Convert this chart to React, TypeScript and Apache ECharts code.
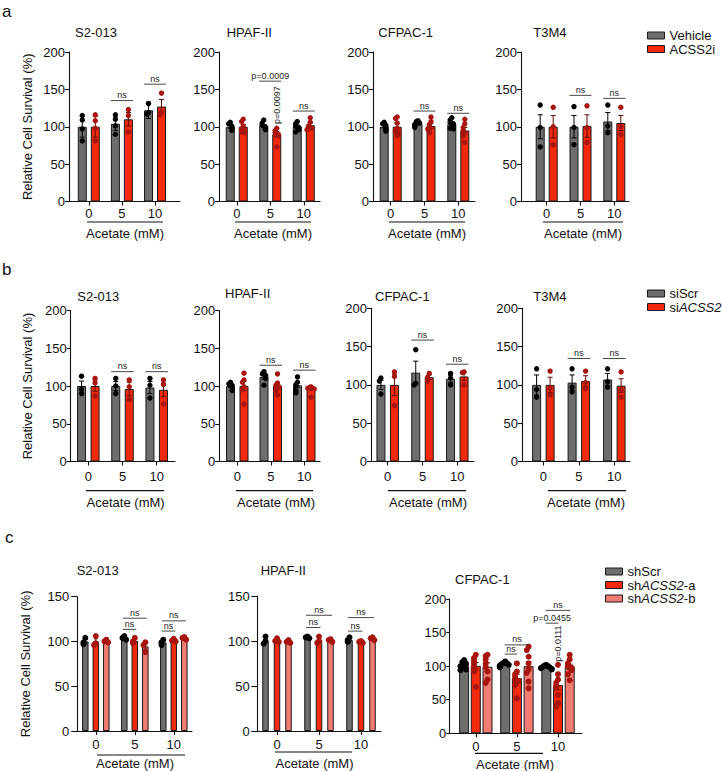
import React, { useEffect, useRef } from 'react';
import * as echarts from 'echarts';

const FONT = "'Liberation Sans', Arial, Helvetica, sans-serif";
const INK = '#111111';
const GRAY = '#6e6e6e';
const RED = '#f2290b';
const PINK = '#f27b72';
const DOT_RED = '#a8140e';
const ERR_RED = '#5e0a05';

const concentrations = ['0', '5', '10'];

// ---------- a : ACSS2 inhibitor ----------
const aS2VehMean = [100, 104, 122];
const aS2VehSem = [14, 9, 11];
const aS2VehDots = [[115, 109, 97, 81], [116, 110, 101, 90], [131, 119, 117]];
const aS2InhMean = [100, 110, 127];
const aS2InhSem = [14, 9, 9.5];
const aS2InhDots = [[116, 108, 98, 81], [123, 115, 93], [145, 120, 116]];
const aS2Sig = [[1, 0, 1, 135, 'ns'], [2, 0, 1, 157, 'ns']];

const aHpVehMean = [100, 101, 100];
const aHpVehSem = [2, 2, 2.5];
const aHpVehDots = [[106, 104, 101, 99, 97, 95], [109, 105, 102, 100, 98, 96], [107, 104, 101, 99, 96, 93]];
const aHpInhMean = [100, 90, 102];
const aHpInhSem = [3, 3.5, 3];
const aHpInhDots = [[110, 107, 101, 97, 93, 92], [98, 95, 92, 90, 88, 73], [112, 106, 101, 100, 98, 96]];
const aHpSig = [[1, 0, 1, 161, 'p=0.0009'], [2, 0, 1, 121, 'ns']];
const aHpSigV = [[1, 1, 129, 'p=0.0097']];

const aCfVehMean = [100, 104, 104];
const aCfVehSem = [1.5, 1.5, 2];
const aCfVehDots = [[106, 104, 102, 100, 98, 96, 94], [108, 107, 105, 103, 102, 100, 99], [112, 109, 106, 104, 101, 98, 97]];
const aCfInhMean = [100, 101, 95];
const aCfInhSem = [4, 3, 4];
const aCfInhDots = [[113, 111, 105, 98, 94, 88, 91], [113, 107, 103, 99, 96, 92, 97], [110, 104, 99, 95, 92, 79, 88]];
const aCfSig = [[1, 0, 1, 121, 'ns'], [2, 0, 1, 118, 'ns']];

const aT3VehMean = [100, 100, 107];
const aT3VehSem = [16, 15, 12];
const aT3VehDots = [[129, 99, 73], [127, 99, 76], [129, 101, 92]];
const aT3InhMean = [100, 101, 105];
const aT3InhSem = [15, 15, 10];
const aT3InhDots = [[126, 100, 76], [128, 99, 79], [126, 100, 90]];
const aT3Sig = [[1, 0, 1, 142, 'ns'], [2, 0, 1, 138, 'ns']];

// ---------- b : siRNA ----------
const bS2ScrMean = [100, 100, 98];
const bS2ScrSem = [6.5, 6, 8];
const bS2ScrDots = [[113, 96, 90], [110, 100, 90], [110, 101, 84]];
const bS2SiMean = [100, 96, 95];
const bS2SiSem = [7, 9, 9];
const bS2SiDots = [[110, 104, 87], [108, 99, 82], [108, 102, 76]];
const bS2Sig = [[1, 0, 1, 119, 'ns'], [2, 0, 1, 119, 'ns']];

const bHpScrMean = [100, 112, 101];
const bHpScrSem = [2, 3, 3];
const bHpScrDots = [[105, 103, 101, 99, 97, 94], [119, 116, 114, 112, 110, 101], [112, 105, 102, 99, 94, 91]];
const bHpSiMean = [100, 100, 97];
const bHpSiSem = [6, 4, 2.5];
const bHpSiDots = [[117, 108, 105, 99, 95, 76], [116, 104, 101, 99, 94, 88], [99, 98, 97, 97, 96, 85]];
const bHpSig = [[1, 0, 1, 127.5, 'ns'], [2, 0, 1, 121, 'ns']];

const bCfScrMean = [100, 116, 108];
const bCfScrSem = [6, 15, 4.5];
const bCfScrDots = [[109, 105, 88], [146, 102, 100], [115, 109, 100]];
const bCfSiMean = [100, 110, 111];
const bCfSiSem = [14, 3, 5.5];
const bCfSiDots = [[117, 111, 73], [115, 110, 105], [117, 116, 100]];
const bCfSig = [[1, 0, 1, 158.5, 'ns'], [2, 0, 1, 127, 'ns']];

const bT3ScrMean = [100, 103, 107];
const bT3ScrSem = [13, 10, 8];
const bT3ScrDots = [[121, 94, 84], [121, 97, 91], [121, 104, 97]];
const bT3SiMean = [100, 105, 99];
const bT3SiSem = [10, 7, 9];
const bT3SiDots = [[118, 96, 87], [118, 103, 95], [117, 93, 84]];
const bT3Sig = [[1, 0, 1, 134.5, 'ns'], [2, 0, 1, 134.5, 'ns']];

// ---------- c : shRNA ----------
const cS2ScrMean = [100, 104, 99];
const cS2ScrSem = [2, 1, 2];
const cS2ScrDots = [[104, 99, 97], [106, 104, 102], [102, 99, 96]];
const cS2AMean = [100, 100.5, 101.5];
const cS2ASem = [3, 2, 1];
const cS2ADots = [[106, 98, 96], [104, 100, 98], [103, 101, 100]];
const cS2BMean = [100.5, 94.5, 103.5];
const cS2BSem = [1, 3, 1];
const cS2BDots = [[102, 100, 99], [99, 96, 88], [105, 104, 102]];
const cS2Sig = [[1, 0, 1, 113.5, 'ns'], [1, 0, 2, 126, 'ns'], [2, 0, 1, 111.6, 'ns'], [2, 0, 2, 123, 'ns']];

const cHpScrMean = [100, 104, 101];
const cHpScrSem = [2, 0.5, 1.5];
const cHpScrDots = [[105, 100, 97], [105, 104, 103], [104, 101, 99]];
const cHpAMean = [101, 101, 99];
const cHpASem = [1, 2, 0.8];
const cHpADots = [[103, 100, 99], [105, 100, 98], [100, 99, 98]];
const cHpBMean = [99, 101, 102.5];
const cHpBSem = [1, 1, 1];
const cHpBDots = [[101, 99, 98], [102, 101, 99], [104, 103, 101]];
const cHpSig = [[1, 0, 1, 115, 'ns'], [1, 0, 2, 128.6, 'ns'], [2, 0, 1, 111, 'ns'], [2, 0, 2, 126, 'ns']];

const cCfScrMean = [99, 102.5, 98.5];
const cCfScrSem = [2, 1, 1];
const cCfScrDots = [[109, 106, 104, 102, 100, 97, 95, 94], [107, 105, 104, 103, 102, 101, 100, 98], [102, 101, 100, 99, 98, 97, 96, 95]];
const cCfAMean = [100.5, 82, 72];
const cCfASem = [5, 6, 7];
const cCfADots = [[117, 112, 108, 104, 100, 97, 92, 69], [104, 92, 88, 84, 80, 78, 72, 52], [102, 88, 80, 75, 70, 68, 57, 45, 40]];
const cCfBMean = [99, 100, 99];
const cCfBSem = [6, 7, 4];
const cCfBDots = [[117, 115, 110, 104, 99, 92, 80, 75], [129, 124, 114, 104, 96, 90, 77, 67], [117, 110, 104, 100, 98, 94, 88, 79]];
const cCfSig = [[1, 0, 1, 118, 'ns'], [1, 0, 2, 131.6, 'ns'], [2, 0, 2, 183, 'ns'], [2, 0, 1, 164, 'p=0.0455']];
const cCfSigV = [[2, 1, 133.5, 'p=0.0111']];

// ---------- helpers ----------
const ctrl = (name, mean, sem, dots) => ({ name, mean, sem, dots, fill: GRAY, dot: '#000000', err: '#000000' });
const trt = (name, mean, sem, dots, fill = RED) => ({ name, mean, sem, dots, fill, dot: DOT_RED, err: ERR_RED });

const rowA = { barW: 9, gapPx: 4, dotR: 2.7, ext: 4.5, tickLen: 4, yMargin: 4, xMargin: 5.5, max: 200 };
const rowB = { barW: 9, gapPx: 4.5, dotR: 2.7, ext: 4.5, tickLen: 4, yMargin: 4, xMargin: 8, max: 200 };

const panels = [
  { ...rowA, title: 'S2-013', tx: 75, ty: 32, frame: [69, 52, 111, 149.5], cat: [72.25, 99.3], yName: 'Relative Cell Survival (%)', nameGap: 35,
    groups: [ctrl('Vehicle', aS2VehMean, aS2VehSem, aS2VehDots), trt('ACSS2i', aS2InhMean, aS2InhSem, aS2InhDots)], sig: aS2Sig, sigV: [] },
  { ...rowA, title: 'HPAF-II', tx: 226.7, ty: 32, frame: [219, 52, 101, 149.5], cat: [220, 100.5],
    groups: [ctrl('Vehicle', aHpVehMean, aHpVehSem, aHpVehDots), trt('ACSS2i', aHpInhMean, aHpInhSem, aHpInhDots)], sig: aHpSig, sigV: aHpSigV },
  { ...rowA, title: 'CFPAC-1', tx: 378.3, ty: 32, frame: [373, 52, 102, 149.5], cat: [373.8, 101.4],
    groups: [ctrl('Vehicle', aCfVehMean, aCfVehSem, aCfVehDots), trt('ACSS2i', aCfInhMean, aCfInhSem, aCfInhDots)], sig: aCfSig, sigV: [] },
  { ...rowA, title: 'T3M4', tx: 533.3, ty: 32, frame: [521, 52, 108, 149.5], cat: [529.8, 101.4],
    groups: [ctrl('Vehicle', aT3VehMean, aT3VehSem, aT3VehDots), trt('ACSS2i', aT3InhMean, aT3InhSem, aT3InhDots)], sig: aT3Sig, sigV: [] },

  { ...rowB, title: 'S2-013', tx: 77.3, ty: 296.7, frame: [70.7, 310.5, 104.3, 151], cat: [71.2, 102.6], yName: 'Relative Cell Survival (%)', nameGap: 37,
    groups: [ctrl('siScr', bS2ScrMean, bS2ScrSem, bS2ScrDots), trt('siACSS2', bS2SiMean, bS2SiSem, bS2SiDots)], sig: bS2Sig, sigV: [] },
  { ...rowB, title: 'HPAF-II', tx: 225, ty: 293.3, frame: [219.3, 310.5, 100.7, 151], cat: [220.5, 100.5],
    groups: [ctrl('siScr', bHpScrMean, bHpScrSem, bHpScrDots), trt('siACSS2', bHpSiMean, bHpSiSem, bHpSiDots)], sig: bHpSig, sigV: [] },
  { ...rowB, title: 'CFPAC-1', tx: 375, ty: 296.7, frame: [371, 308.3, 103, 153.2], cat: [370.3, 104.4],
    groups: [ctrl('siScr', bCfScrMean, bCfScrSem, bCfScrDots), trt('siACSS2', bCfSiMean, bCfSiSem, bCfSiDots)], sig: bCfSig, sigV: [] },
  { ...rowB, title: 'T3M4', tx: 533.3, ty: 296.7, frame: [522, 308.3, 108, 153.2], cat: [525.6, 106.5],
    groups: [ctrl('siScr', bT3ScrMean, bT3ScrSem, bT3ScrDots), trt('siACSS2', bT3SiMean, bT3SiSem, bT3SiDots)], sig: bT3Sig, sigV: [] },

  { barW: 6.5, gapPx: 4, dotR: 3, ext: 1.5, tickLen: 6, yMargin: 8, xMargin: 7, max: 150,
    title: 'S2-013', tx: 76.7, ty: 570, frame: [77.3, 596.7, 114.7, 134.3], cat: [76.3, 117], yName: 'Relative Cell Survival (%)', nameGap: 45,
    groups: [ctrl('shScr', cS2ScrMean, cS2ScrSem, cS2ScrDots), trt('shACSS2-a', cS2AMean, cS2ASem, cS2ADots), trt('shACSS2-b', cS2BMean, cS2BSem, cS2BDots, PINK)], sig: cS2Sig, sigV: [] },
  { barW: 6.5, gapPx: 5, dotR: 3, ext: 1.5, tickLen: 6, yMargin: 7.5, xMargin: 7, max: 150,
    title: 'HPAF-II', tx: 260.7, ty: 570, frame: [257.3, 596, 123.7, 135], cat: [256, 126],
    groups: [ctrl('shScr', cHpScrMean, cHpScrSem, cHpScrDots), trt('shACSS2-a', cHpAMean, cHpASem, cHpADots), trt('shACSS2-b', cHpBMean, cHpBSem, cHpBDots, PINK)], sig: cHpSig, sigV: [] },
  { barW: 10, gapPx: 1.7, dotR: 3, ext: 0.5, tickLen: 3, yMargin: 3, xMargin: 7, max: 200,
    title: 'CFPAC-1', tx: 455, ty: 579, frame: [449.3, 599, 132.7, 134.3], cat: [455.25, 123.3],
    groups: [ctrl('shScr', cCfScrMean, cCfScrSem, cCfScrDots), trt('shACSS2-a', cCfAMean, cCfASem, cCfADots), trt('shACSS2-b', cCfBMean, cCfBSem, cCfBDots, PINK)], sig: cCfSig, sigV: cCfSigV },
];

// grouping underline [x1, x2, y] and "Acetate (mM)" centre [x, y]
const underlines = [
  [87, 163, 222], [235, 311, 222], [389, 465, 222], [543, 623, 222],
  [86, 164, 490.6], [236, 313, 490.6], [388, 466, 490.6], [548, 626, 490.6],
  [97, 185, 755], [275, 352, 752], [475, 543, 753.3],
];
const xNamePos = [
  [125, 233.5], [273, 233.5], [427, 233.5], [583, 233.5],
  [125.6, 502.5], [276, 502.5], [428, 502.5], [586, 502.5],
  [135, 763.5], [314.5, 763.5], [515, 764],
];

function buildOption() {
  const grid: any[] = [];
  const xAxis: any[] = [];
  const yAxis: any[] = [];
  const series: any[] = [];
  const axisLine = { show: true, lineStyle: { color: INK, width: 1.1 } };
  const labelStyle = { fontSize: 13, color: INK, fontFamily: FONT };

  panels.forEach((p, i) => {
    const fi = 2 * i;
    const di = 2 * i + 1;
    const top = p.frame[1];
    const height = p.frame[3];
    grid.push({ left: p.frame[0], top, width: p.frame[2], height });
    grid.push({ left: p.cat[0], top, width: p.cat[1], height });

    xAxis.push({ gridIndex: fi, type: 'value', min: 0, max: 1, axisLine, axisTick: { show: false }, axisLabel: { show: false }, splitLine: { show: false } });
    xAxis.push({
      gridIndex: di, type: 'category', data: concentrations,
      axisLine: { show: false },
      axisTick: { show: true, alignWithLabel: true, length: 4, lineStyle: { color: INK, width: 1.1 } },
      axisLabel: { ...labelStyle, margin: p.xMargin },
      splitLine: { show: false },
    });
    yAxis.push({
      gridIndex: fi, type: 'value', min: 0, max: p.max, interval: 50,
      axisLine, axisTick: { show: true, length: p.tickLen, lineStyle: { color: INK, width: 1.1 } },
      axisLabel: { ...labelStyle, margin: p.yMargin },
      splitLine: { show: false },
      name: (p as any).yName || '', nameLocation: 'middle', nameGap: (p as any).nameGap || 30, nameRotate: 90,
      nameTextStyle: { fontSize: 13, color: INK, fontFamily: FONT },
    });
    yAxis.push({ gridIndex: di, type: 'value', min: 0, max: p.max, show: false });

    const n = p.groups.length;
    const w = p.barW;
    const total = n * w + (n - 1) * p.gapPx;
    const off = (g) => -total / 2 + g * (w + p.gapPx) + w / 2;
    const gapPct = `${(p.gapPx / w) * 100}%`;

    p.groups.forEach((g, gi) => {
      series.push({
        type: 'bar', name: g.name, xAxisIndex: di, yAxisIndex: di, data: g.mean,
        barWidth: w, barGap: gapPct, silent: true,
        itemStyle: { color: g.fill, borderColor: '#1a1a1a', borderWidth: 1 },
      });
    });
    p.groups.forEach((g, gi) => {
      series.push({
        type: 'custom', name: g.name + ' points', xAxisIndex: di, yAxisIndex: di, z: 4, silent: true,
        data: g.mean.map((m, k) => [k, m, g.sem[k]]),
        renderItem: (params, api) => {
          const k = api.value(0);
          const m = api.value(1);
          const s = api.value(2);
          const base = api.coord([k, m]);
          const x = base[0] + off(gi);
          const yHi = api.coord([k, m + s])[1];
          const yLo = api.coord([k, m - s])[1];
          const cap = w * 0.28;
          const es = { stroke: g.err, lineWidth: 1 };
          const children: any[] = [
            { type: 'line', shape: { x1: x, y1: yLo, x2: x, y2: yHi }, style: es },
            { type: 'line', shape: { x1: x - cap, y1: yHi, x2: x + cap, y2: yHi }, style: es },
            { type: 'line', shape: { x1: x - cap, y1: yLo, x2: x + cap, y2: yLo }, style: es },
          ];
          const placed: number[] = [];
          const spread = [0, -1, 1, -2, 2, -3, 3];
          g.dots[params.dataIndex].forEach((d) => {
            const cy = api.coord([k, d])[1];
            const cnt = placed.filter((py) => Math.abs(py - cy) < p.dotR * 1.5).length;
            const jx = spread[Math.min(cnt, 6)] * p.dotR * 0.6;
            placed.push(cy);
            children.push({ type: 'circle', shape: { cx: x + jx, cy, r: p.dotR }, style: { fill: g.dot } });
          });
          return { type: 'group', children };
        },
      });
    });

    if (p.sig.length) {
      series.push({
        type: 'custom', name: 'significance', xAxisIndex: di, yAxisIndex: di, z: 5, silent: true,
        data: p.sig.map((s) => [s[0], s[3]]),
        renderItem: (params, api) => {
          const s = p.sig[params.dataIndex];
          const c = api.coord([s[0], s[3]]);
          const x1 = c[0] + off(s[1]) - p.ext;
          const x2 = c[0] + off(s[2]) + p.ext;
          return {
            type: 'group',
            children: [
              { type: 'line', shape: { x1, y1: c[1], x2, y2: c[1] }, style: { stroke: '#333333', lineWidth: 0.9 } },
              { type: 'text', x: (x1 + x2) / 2, y: c[1] - 1, style: { text: s[4], fill: '#222222', fontSize: 9, fontFamily: FONT, align: 'center', verticalAlign: 'bottom' } },
            ],
          };
        },
      });
    }
    if (p.sigV.length) {
      series.push({
        type: 'custom', name: 'significance vertical', xAxisIndex: di, yAxisIndex: di, z: 5, silent: true,
        data: p.sigV.map((s) => [s[0], s[2]]),
        renderItem: (params, api) => {
          const s = p.sigV[params.dataIndex];
          const c = api.coord([s[0], s[2]]);
          return {
            type: 'text', x: c[0] + off(s[1]), y: c[1], rotation: Math.PI / 2,
            style: { text: s[3], fill: '#222222', fontSize: 9, fontFamily: FONT, align: 'center', verticalAlign: 'middle' },
          };
        },
      });
    }
  });

  const title = panels.map((p) => ({
    text: p.title, left: p.tx, top: p.ty - 7, padding: 0,
    textStyle: { fontSize: 13, fontWeight: 'normal', color: INK, fontFamily: FONT, lineHeight: 14 },
  }));

  const rich = {
    n: { fontSize: 13, fontFamily: FONT, color: INK, lineHeight: 10 },
    i: { fontSize: 13, fontFamily: FONT, color: INK, lineHeight: 10, fontStyle: 'italic' },
  };
  const fmt = (name) => {
    if (name === 'siACSS2') return '{n|si}{i|ACSS2}';
    if (name === 'shACSS2-a') return '{n|sh}{i|ACSS2}{n|-a}';
    if (name === 'shACSS2-b') return '{n|sh}{i|ACSS2}{n|-b}';
    return '{n|' + name + '}';
  };
  const legendBase = {
    orient: 'vertical', padding: 0, itemGap: 0.5, itemWidth: 17, itemHeight: 7, icon: 'rect', selectedMode: false,
    textStyle: { fontSize: 13, lineHeight: 10, color: INK, fontFamily: FONT, rich }, formatter: fmt,
    itemStyle: { borderColor: '#1a1a1a', borderWidth: 1 },
  };
  const legend = [
    { ...legendBase, data: ['Vehicle', 'ACSS2i'], left: 647, top: 29 },
    { ...legendBase, data: ['siScr', 'siACSS2'], left: 647, top: 287 },
    { ...legendBase, data: ['shScr', 'shACSS2-a', 'shACSS2-b'], left: 605, top: 565 },
  ];

  const graphic: any[] = [];
  [['a', 2, 11], ['b', 2, 269], ['c', 5, 537.5]].forEach(([t, x, y]) => {
    graphic.push({ type: 'text', x, y, style: { text: t, fontSize: 17, fontFamily: FONT, fill: INK, align: 'left', verticalAlign: 'middle' } });
  });
  underlines.forEach(([x1, x2, y]) => {
    graphic.push({ type: 'line', shape: { x1, y1: y, x2, y2: y }, style: { stroke: INK, lineWidth: 1.2 } });
  });
  xNamePos.forEach(([x, y]) => {
    graphic.push({ type: 'text', x, y, style: { text: 'Acetate (mM)', fontSize: 13, fontFamily: FONT, fill: INK, align: 'center', verticalAlign: 'middle' } });
  });

  return {
    animation: false,
    backgroundColor: '#ffffff',
    textStyle: { fontFamily: FONT },
    title, legend, grid, xAxis, yAxis, series, graphic,
  };
}

export default function App() {
  const ref = useRef<HTMLDivElement>(null);
  useEffect(() => {
    const chart = echarts.init(ref.current as HTMLDivElement, null, { renderer: 'svg' });
    chart.setOption(buildOption() as any);
    return () => chart.dispose();
  }, []);
  return <div ref={ref} style={{ position: 'fixed', left: 0, top: 0, width: 722, height: 771, background: '#ffffff' }} />;
}
